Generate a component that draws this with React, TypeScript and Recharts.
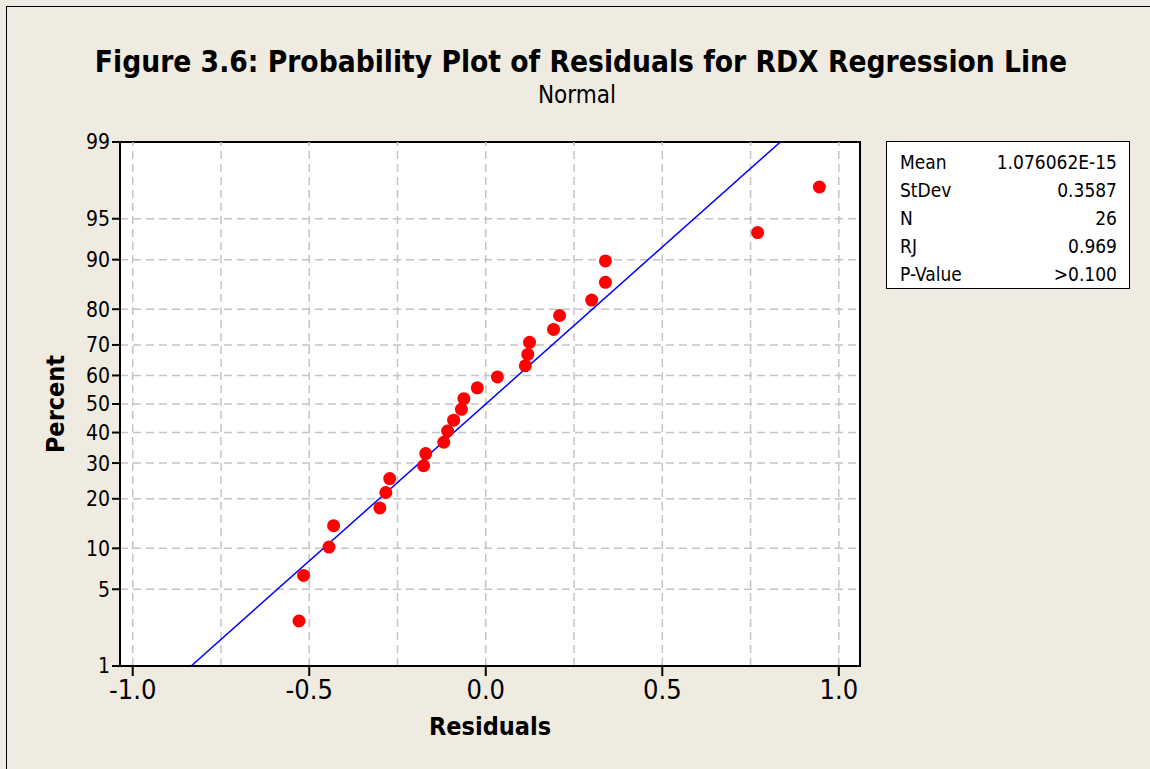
import React from 'react';
import { ScatterChart, Scatter, XAxis, YAxis, CartesianGrid, ReferenceLine, ReferenceArea } from 'recharts';

// residuals (sorted)
const residuals = [
  -0.529, -0.516, -0.444, -0.431, -0.300, -0.283, -0.272, -0.176, -0.170, -0.119,
  -0.108, -0.091, -0.069, -0.062, -0.024, 0.033, 0.112, 0.119, 0.124, 0.192,
  0.209, 0.300, 0.339, 0.339, 0.770, 0.945,
];
// plotted percent for each point
const percents = [
  2.7, 6.4, 10.2, 14.0, 17.8, 21.6, 25.4, 29.2, 33.0, 36.7,
  40.5, 44.3, 48.1, 51.9, 55.7, 59.5, 63.3, 67.0, 70.8, 74.6,
  78.4, 82.2, 86.0, 89.8, 93.6, 97.3,
];

const yTickPcts = [1, 5, 10, 20, 30, 40, 50, 60, 70, 80, 90, 95, 99];
const xTicks = [-1, -0.5, 0, 0.5, 1];
const xGrid = [-1, -0.75, -0.5, -0.25, 0, 0.25, 0.5, 0.75, 1];
const xDomain: [number, number] = [-1.036, 1.06];

const statLabels = ['Mean', 'StDev', 'N', 'RJ', 'P-Value'];
const statValues = ['1.076062E-15', '0.3587', '26', '0.969', '>0.100'];
const mean = 1.076062e-15;
const stdev = 0.3587;
const fitPcts = [1, 99];

// inverse normal cdf (Acklam)
function probit(p: number) {
  const a = [-39.69683028665376, 220.9460984245205, -275.9285104469687, 138.357751867269, -30.66479806614716, 2.506628277459239];
  const b = [-54.47609879822406, 161.5858368580409, -155.6989798598866, 66.80131188771972, -13.28068155288572];
  const c = [-0.007784894002430293, -0.3223964580411365, -2.400758277161838, -2.549732539343734, 4.374664141464968, 2.938163982698783];
  const d = [0.007784695709041462, 0.3224671290700398, 2.445134137142996, 3.754408661907416];
  const pl = 0.02425;
  if (p < pl) {
    const q = Math.sqrt(-2 * Math.log(p));
    return (((((c[0] * q + c[1]) * q + c[2]) * q + c[3]) * q + c[4]) * q + c[5]) / ((((d[0] * q + d[1]) * q + d[2]) * q + d[3]) * q + 1);
  }
  if (p > 1 - pl) {
    const q = Math.sqrt(-2 * Math.log(1 - p));
    return -(((((c[0] * q + c[1]) * q + c[2]) * q + c[3]) * q + c[4]) * q + c[5]) / ((((d[0] * q + d[1]) * q + d[2]) * q + d[3]) * q + 1);
  }
  const q = p - 0.5;
  const r = q * q;
  return (((((a[0] * r + a[1]) * r + a[2]) * r + a[3]) * r + a[4]) * r + a[5]) * q / (((((b[0] * r + b[1]) * r + b[2]) * r + b[3]) * r + b[4]) * r + 1);
}

const points = residuals.map((x, i) => ({ x, z: probit(percents[i] / 100) }));
const fitLine = fitPcts.map((p) => ({ x: mean + stdev * probit(p / 100), z: probit(p / 100) }));
const yTicks = yTickPcts.map((p) => probit(p / 100));
const yDomain: [number, number] = [probit(0.01), probit(0.99)];

const font = "'DejaVu Sans Condensed', 'DejaVu Sans', sans-serif";

function yLabel(v: number) {
  let best = 0;
  yTicks.forEach((t, i) => {
    if (Math.abs(t - v) < Math.abs(yTicks[best] - v)) best = i;
  });
  return String(yTickPcts[best]);
}

export default function App() {
  return (
    <div style={{ position: 'absolute', left: 0, top: 0, width: 1150, height: 769, overflow: 'hidden', background: '#EFEBE1', fontFamily: font }}>
      <div style={{ position: 'absolute', left: 6, top: 6, width: 1160, height: 780, border: '1px solid #000', boxSizing: 'border-box' }} />

      <div style={{ position: 'absolute', left: 0, width: 1162, top: 45, textAlign: 'center', fontSize: 29.6, fontWeight: 'bold', color: '#000' }}>
        Figure 3.6: Probability Plot of Residuals for RDX Regression Line
      </div>
      <div style={{ position: 'absolute', left: 0, width: 1154, top: 81, textAlign: 'center', fontSize: 24, color: '#000' }}>
        Normal
      </div>

      <div style={{ position: 'absolute', left: 0, top: 0 }}>
        <ScatterChart width={1150} height={769} margin={{ top: 142, right: 290, bottom: 43, left: 50 }} style={{ fontFamily: font }}>
          <CartesianGrid vertical={false} fill="#fff" stroke="#c4c4c4" strokeWidth={1.5} strokeDasharray="8 5" />
          {xGrid.map((g) => (
            <ReferenceLine key={g} x={g} stroke="#c4c4c4" strokeWidth={1.5} strokeDasharray="8 5" />
          ))}
          <XAxis
            type="number"
            dataKey="x"
            domain={xDomain}
            ticks={xTicks}
            interval={0}
            allowDataOverflow
            height={60}
            tickFormatter={(v: number) => v.toFixed(1)}
            tick={{ fill: '#000', fontSize: 27 }}
            tickSize={10}
            tickMargin={4}
            tickLine={{ stroke: '#000', strokeWidth: 2 }}
            axisLine={{ stroke: '#000', strokeWidth: 2 }}
            label={{ value: 'Residuals', position: 'insideBottom', offset: -9, fill: '#000', fontSize: 25, fontWeight: 'bold' }}
          />
          <YAxis
            type="number"
            dataKey="z"
            domain={yDomain}
            ticks={yTicks}
            interval={0}
            allowDataOverflow
            width={70}
            tickFormatter={yLabel}
            tick={{ fill: '#000', fontSize: 21 }}
            tickSize={8}
            tickLine={{ stroke: '#000', strokeWidth: 2 }}
            axisLine={{ stroke: '#000', strokeWidth: 2 }}
            label={{ value: 'Percent', angle: -90, position: 'insideLeft', offset: 5, fill: '#000', fontSize: 25, fontWeight: 'bold', style: { textAnchor: 'middle' } }}
          />
          <ReferenceArea x1={xDomain[0]} x2={xDomain[1]} y1={yDomain[0]} y2={yDomain[1]} fill="none" stroke="#000" strokeWidth={2} />
          <Scatter
            data={fitLine}
            line={{ stroke: '#0000ff', strokeWidth: 1.5 }}
            shape={() => <g />}
            isAnimationActive={false}
          />
          <Scatter
            data={points}
            fill="#ff0000"
            shape={(p: any) => <circle cx={p.cx} cy={p.cy} r={6.5} fill="#ff0000" />}
            isAnimationActive={false}
          />
        </ScatterChart>
      </div>

      <div style={{ position: 'absolute', left: 886, top: 141, width: 244, height: 148, border: '1.5px solid #000', boxSizing: 'border-box', background: '#fff', padding: '6px 12px 0 13px', fontSize: 19, color: '#000' }}>
        {statLabels.map((l, i) => (
          <div key={l} style={{ display: 'flex', justifyContent: 'space-between', height: 28, lineHeight: '28px' }}>
            <span>{l}</span>
            <span>{statValues[i]}</span>
          </div>
        ))}
      </div>
    </div>
  );
}
